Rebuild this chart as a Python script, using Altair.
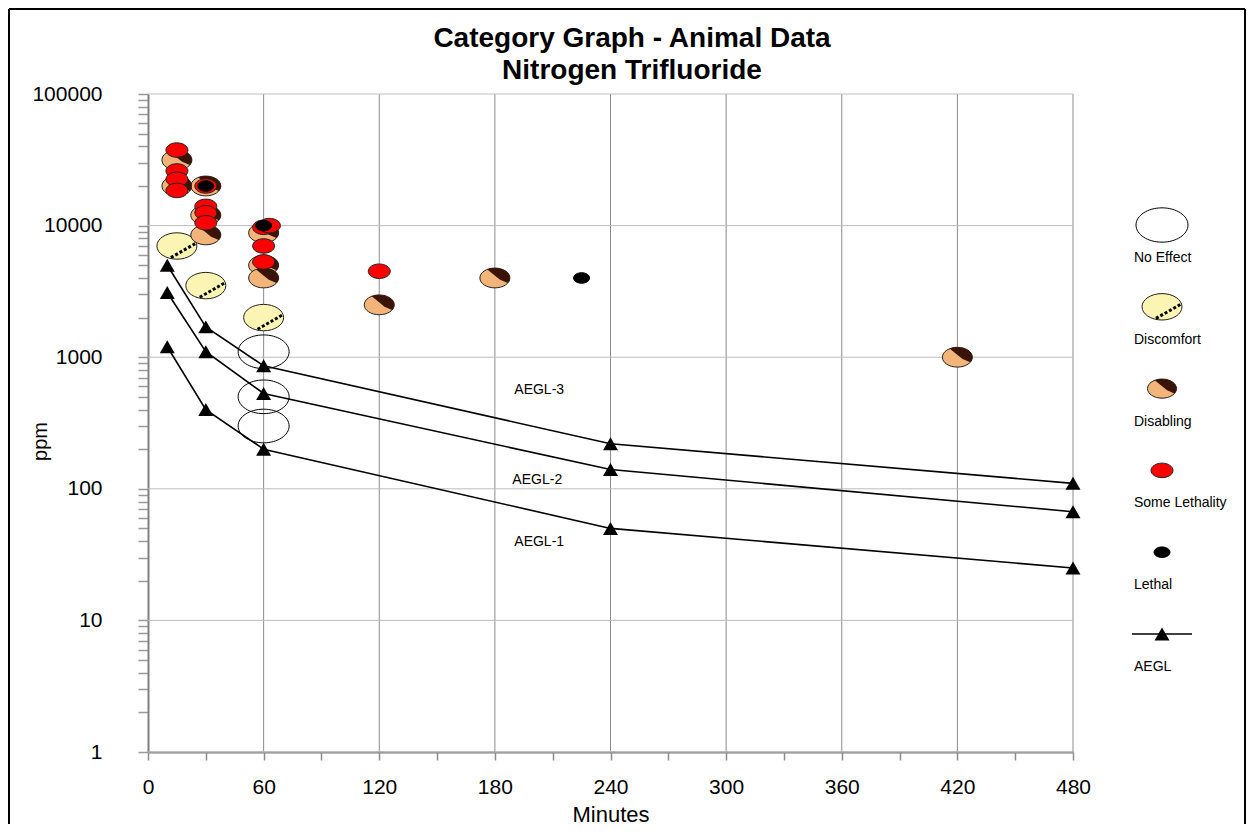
import altair as alt
import pandas as pd

# ---------------- data ----------------
categories = ["No Effect", "Discomfort", "Disabling", "Some Lethality", "Lethal", "AEGL"]

no_effect_min = [60, 60, 60]
no_effect_ppm = [1100, 500, 300]

discomfort_min = [15, 30, 60]
discomfort_ppm = [7000, 3500, 2000]

disabling_min = [15, 15, 30, 30, 30, 60, 60, 60, 120, 180, 420]
disabling_ppm = [31500, 20000, 20000, 12000, 8500, 8800, 5000, 4000, 2500, 4000, 1000]

some_leth_min = [15, 15, 15, 15, 30, 30, 30, 30, 60, 63, 60, 60, 120]
some_leth_ppm = [37500, 26000, 22500, 18500, 20000, 14000, 12500, 10500, 9700, 10000, 7000, 5300, 4500]

lethal_min = [30, 60, 225]
lethal_ppm = [20000, 10000, 4000]

aegl_min = [10, 30, 60, 240, 480]
aegl3_ppm = [5000, 1700, 860, 220, 110]
aegl2_ppm = [3100, 1100, 530, 140, 67]
aegl1_ppm = [1200, 400, 200, 50, 25]

aegl_label_text = ["AEGL-3", "AEGL-2", "AEGL-1"]
aegl_label_min = [203, 202, 203]
aegl_label_ppm = [563, 117, 39.4]

title_lines = ["Category Graph - Animal Data", "Nitrogen Trifluoride"]

x_grid_values = [60, 120, 180, 240, 300, 360, 420, 480]
x_tick_values = list(range(0, 481, 30))
y_decades = [1, 10, 100, 1000, 10000, 100000]
y_tick_values = [d * k for d in [1, 10, 100, 1000, 10000] for k in range(1, 10)] + [100000]

# ---------------- tables ----------------
rows = []
for cat, mins, vals in [
    ("No Effect", no_effect_min, no_effect_ppm),
    ("Discomfort", discomfort_min, discomfort_ppm),
    ("Disabling", disabling_min, disabling_ppm),
    ("Some Lethality", some_leth_min, some_leth_ppm),
    ("Lethal", lethal_min, lethal_ppm),
]:
    for m, v in zip(mins, vals):
        rows.append({"category": cat, "minutes": m, "ppm": v})
points = pd.DataFrame(rows)

aegl_rows = []
for lvl, vals in [("AEGL-3", aegl3_ppm), ("AEGL-2", aegl2_ppm), ("AEGL-1", aegl1_ppm)]:
    for m, v in zip(aegl_min, vals):
        aegl_rows.append({"level": lvl, "minutes": m, "ppm": v})
aegl = pd.DataFrame(aegl_rows)

aegl_labels = pd.DataFrame({"text": aegl_label_text, "minutes": aegl_label_min, "ppm": aegl_label_ppm})
xgrid = pd.DataFrame({"minutes": x_grid_values})
ygrid = pd.DataFrame({"ppm": y_decades})
legend_df = pd.DataFrame({"category": categories, "idx": list(range(len(categories)))})

# ---------------- styles ----------------
FONT = "Liberation Sans"
ELL = "M-1,0A1,0.66,0,1,1,1,0A1,0.66,0,1,1,-1,0Z"
DISC_LINE = "M-0.3,0.58L0.92,-0.12"
DISAB_DARK = "M-0.5,-0.57A1,0.66,0,0,1,0.86,0.34L0.35,0.12L0.05,-0.12Z"
YELLOW = "#FBF4B2"
ORANGE = "#F3B47A"
DARK = "#3A1406"
SIZES = {"No Effect": 2601, "Discomfort": 1600, "Disabling": 900, "Some Lethality": 484, "Lethal": 256}

x_scale = alt.Scale(domain=[0, 480], nice=False, zero=False)
y_scale = alt.Scale(type="log", domain=[1, 100000], nice=False)

x_axis = alt.Axis(
    values=x_tick_values, format="d",
    labelExpr="datum.value % 60 == 0 ? datum.label : ''",
    grid=False, tickSize=8, tickColor="#8c8c8c", tickWidth=1.5,
    domainColor="#808080", domainWidth=2,
    labelFont=FONT, labelFontSize=21, labelPadding=16, labelColor="black",
    labelOverlap=False, labelFlush=False,
    title="Minutes", titleFont=FONT, titleFontSize=22, titleFontWeight="normal",
    titleColor="black", titleY=69, titleBaseline="alphabetic",
)
y_axis = alt.Axis(
    values=y_tick_values, format="d",
    labelExpr="indexof([1,10,100,1000,10000,100000], datum.value) >= 0 ? datum.label : ''",
    grid=False, tickSize=10, tickColor="#9a9a9a", tickWidth=1.5,
    domainColor="#808080", domainWidth=2,
    labelFont=FONT, labelFontSize=21, labelPadding=36, labelColor="black",
    labelOverlap=False, labelFlush=False,
    title="ppm", titleFont=FONT, titleFontSize=20, titleFontWeight="normal",
    titleColor="black", titleX=-108, titleY=347, titleAngle=270, titleBaseline="middle",
)

X = alt.X("minutes:Q", scale=x_scale, axis=x_axis)
Y = alt.Y("ppm:Q", scale=y_scale, axis=y_axis)

# ---------------- main plot layers ----------------
vgrid = alt.Chart(xgrid).mark_rule(color="#8c8c8c", strokeWidth=1).encode(x=X)
hgrid = alt.Chart(ygrid).mark_rule(color="#bdbdbd", strokeWidth=1).encode(y=Y)

base = alt.Chart(points)


def cat_layer(cat, shape, **mk):
    return base.transform_filter(alt.datum.category == cat).mark_point(
        shape=shape, size=SIZES[cat], opacity=1, **mk).encode(x=X, y=Y)


no_eff = cat_layer("No Effect", ELL, filled=False, stroke="black", strokeWidth=1)
disc = cat_layer("Discomfort", ELL, filled=True, fill=YELLOW, stroke="#222", strokeWidth=1)
disc_line = cat_layer("Discomfort", DISC_LINE, filled=False, stroke="black",
                      strokeWidth=3, strokeDash=[3, 2])
disab = cat_layer("Disabling", ELL, filled=True, fill=ORANGE, stroke="#222", strokeWidth=1)
disab_dark = cat_layer("Disabling", DISAB_DARK, filled=True, fill=DARK, strokeWidth=0)
red = cat_layer("Some Lethality", ELL, filled=True, fill="#FF0000", stroke="#222", strokeWidth=1)
black = cat_layer("Lethal", ELL, filled=True, fill="#000000", stroke="#000", strokeWidth=1)

aegl_line = alt.Chart(aegl).mark_line(color="black", strokeWidth=1.6).encode(
    x=X, y=Y, detail="level:N")
aegl_tri = alt.Chart(aegl).mark_point(shape="triangle-up", filled=True, size=225,
                                      color="black", opacity=1).encode(x=X, y=Y)
aegl_txt = alt.Chart(aegl_labels).mark_text(font=FONT, fontSize=14, color="black").encode(
    x=X, y=Y, text="text:N")

title1 = alt.Chart(pd.DataFrame({"t": [title_lines[0]]})).mark_text(
    font=FONT, fontSize=28, fontWeight="bold", color="black", baseline="alphabetic"
).encode(x=alt.value(484), y=alt.value(-47), text="t:N")
title2 = alt.Chart(pd.DataFrame({"t": [title_lines[1]]})).mark_text(
    font=FONT, fontSize=28, fontWeight="bold", color="black", baseline="alphabetic"
).encode(x=alt.value(484), y=alt.value(-15), text="t:N")

frame_left = alt.Chart(xgrid).mark_rule(color="black", strokeWidth=2).encode(
    x=alt.value(-139), y=alt.value(-85), y2=alt.value(730))
frame_top = alt.Chart(xgrid).mark_rule(color="black", strokeWidth=2).encode(
    x=alt.value(-139), x2=alt.value(1097), y=alt.value(-85))
frame_right = alt.Chart(xgrid).mark_rule(color="black", strokeWidth=2).encode(
    x=alt.value(1097), y=alt.value(-85), y2=alt.value(730))

main = alt.layer(
    vgrid, hgrid, no_eff, disc, disc_line, disab, disab_dark, red, black,
    aegl_line, aegl_tri, aegl_txt, title1, title2, frame_left, frame_top, frame_right,
).properties(width=925, height=658)

# ---------------- legend panel ----------------
LY = alt.Y("idx:Q", scale=alt.Scale(domain=[-1.6015, 6.4425], reverse=True, nice=False, zero=False),
           axis=None)
lbase = alt.Chart(legend_df)


def leg_layer(cat, shape, size, **mk):
    return lbase.transform_filter(alt.datum.category == cat).mark_point(
        shape=shape, size=size, opacity=1, **mk).encode(x=alt.value(28), y=LY)


l_no = leg_layer("No Effect", ELL, 2704, filled=False, stroke="black", strokeWidth=1)
l_disc = leg_layer("Discomfort", ELL, 1600, filled=True, fill=YELLOW, stroke="#222", strokeWidth=1)
l_disc_line = leg_layer("Discomfort", DISC_LINE, 1600, filled=False, stroke="black",
                        strokeWidth=3, strokeDash=[3, 2])
l_disab = leg_layer("Disabling", ELL, 841, filled=True, fill=ORANGE, stroke="#222", strokeWidth=1)
l_disab_dark = leg_layer("Disabling", DISAB_DARK, 841, filled=True, fill=DARK, strokeWidth=0)
l_red = leg_layer("Some Lethality", ELL, 484, filled=True, fill="#FF0000", stroke="#222", strokeWidth=1)
l_black = leg_layer("Lethal", ELL, 256, filled=True, fill="#000000", stroke="#000", strokeWidth=1)
l_aegl_rule = lbase.transform_filter(alt.datum.category == "AEGL").mark_rule(
    color="black", strokeWidth=1.6).encode(x=alt.value(-2), x2=alt.value(58), y=LY)
l_aegl_tri = leg_layer("AEGL", "triangle-up", 225, filled=True, color="black")
l_text = lbase.mark_text(font=FONT, fontSize=14, color="black", align="left",
                         baseline="middle", dy=33).encode(x=alt.value(0), y=LY, text="category:N")

legend = alt.layer(
    l_no, l_disc, l_disc_line, l_disab, l_disab_dark, l_red, l_black,
    l_aegl_rule, l_aegl_tri, l_text,
).properties(width=100, height=658)

chart = alt.hconcat(main, legend, spacing=61, bounds="flush").properties(
    padding=0
).configure(font=FONT).configure_view(strokeWidth=0, stroke="transparent")

chart.save("out.html", embed_options={"renderer": "svg", "actions": False})
